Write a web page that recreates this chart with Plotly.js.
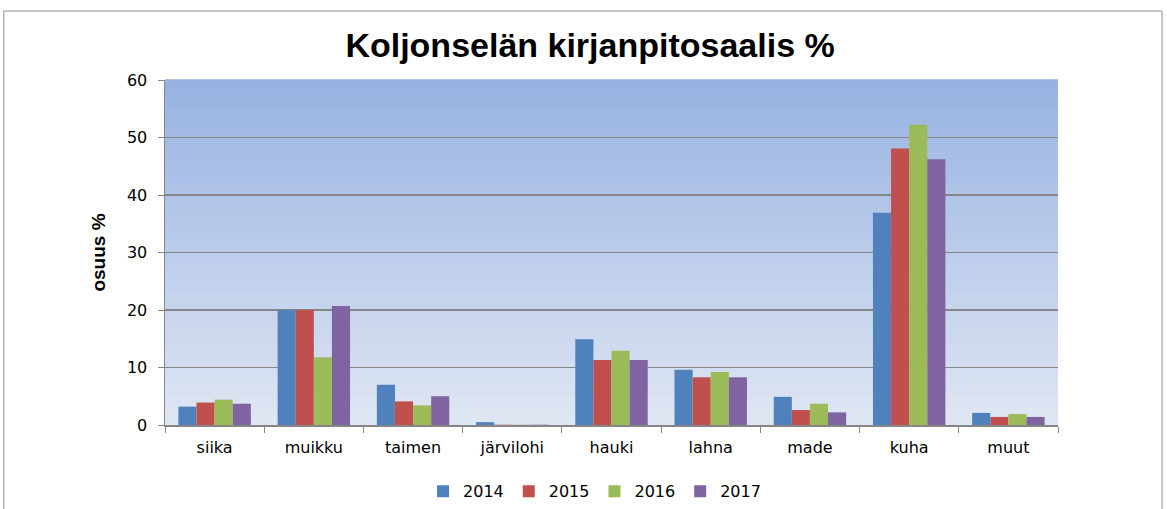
<!DOCTYPE html>
<html>
<head>
<meta charset="utf-8">
<script src="https://cdn.plot.ly/plotly-3.0.1.min.js"></script>
<style>html,body{margin:0;padding:0;background:#fff;}#chart{width:1167px;height:509px;}</style>
</head>
<body>
<div id="chart"></div>
<script>
const categories = ["siika","muikku","taimen","järvilohi","hauki","lahna","made","kuha","muut"];
const years = ["2014","2015","2016","2017"];
const v2014 = [3.2, 20.0, 7.0, 0.5, 14.9, 9.6, 4.9, 36.9, 2.1];
const v2015 = [3.9, 20.0, 4.1, 0.05, 11.3, 8.3, 2.6, 48.1, 1.4];
const v2016 = [4.4, 11.8, 3.4, 0.05, 12.9, 9.2, 3.7, 52.2, 1.9];
const v2017 = [3.7, 20.7, 5.0, 0.05, 11.3, 8.3, 2.2, 46.2, 1.4];
const colors = ["#4f81bd","#c0504d","#9bbb59","#8064a2"];
const series = [v2014, v2015, v2016, v2017];

const traces = series.map((vals, i) => ({
  type: 'bar', name: years[i], x: categories, y: vals,
  marker: {color: colors[i], line: {width: 0}}
}));

// gradient background via stripes
const shapes = [];
const N = 60;
const gradTop = [151,178,226], gradBot = [224,230,243];
for (let k = 0; k < N; k++) {
  const t = (k + 0.5) / N;
  const c = gradTop.map((a, j) => Math.round(gradBot[j] + (a - gradBot[j]) * t));
  shapes.push({type:'rect', xref:'x domain', yref:'y domain', x0:0, x1:1, y0:k/N, y1:(k+1)/N + 0.002,
    fillcolor:`rgb(${c[0]},${c[1]},${c[2]})`, line:{width:0}, layer:'below'});
}
// outer frame
shapes.push({type:'rect', xref:'paper', yref:'paper', x0:-0.1805, x1:1.1165, y0:-0.3, y1:1.2,
  line:{color:'#8c8c8c', width:1}, fillcolor:'rgba(0,0,0,0)', layer:'above'});

const layout = {
  width: 1167, height: 509,
  margin: {l:165, r:109, t:80, b:84, autoexpand:false},
  paper_bgcolor: '#ffffff',
  plot_bgcolor: 'rgba(0,0,0,0)',
  barmode: 'group', bargap: 0.27, bargroupgap: 0,
  title: {text: 'Koljonselän kirjanpitosaalis %', x: 0.476, xref: 'paper', xanchor: 'center', y: 0.912, yanchor: 'middle',
    font: {family: 'Liberation Sans, Arial, sans-serif', size: 34, color: '#000', weight: 'bold'}},
  font: {family: 'DejaVu Sans, Verdana, sans-serif', size: 16, color: '#000'},
  xaxis: {type:'category', showline: true, linecolor:'#868686', linewidth:1.5,
    ticks:'outside', tickson:'boundaries', ticklen:6, tickcolor:'#868686',
    tickfont:{size:16}, showgrid:false, ticklabelstandoff: 7},
  yaxis: {range:[0,60], dtick:10, showline:true, linecolor:'#868686', linewidth:1.5,
    ticks:'outside', ticklen:6, tickcolor:'#868686', showgrid:true, gridcolor:'#868686', gridwidth:1.5,
    zeroline:false, tickfont:{size:16}, ticklabelstandoff: 7,
    title:{text:'osuus %', standoff: 16, font:{family:'Liberation Sans, Arial, sans-serif', size:19, weight:'bold'}}},
  legend: {orientation:'h', x:0.481, xanchor:'center', y:-0.143, yanchor:'top',
    font:{size:16}, traceorder:'normal', itemwidth:30},
  shapes: shapes,
  showlegend: true
};

Plotly.newPlot('chart', traces, layout, {displayModeBar:false, staticPlot:true});
</script>
</body>
</html>
